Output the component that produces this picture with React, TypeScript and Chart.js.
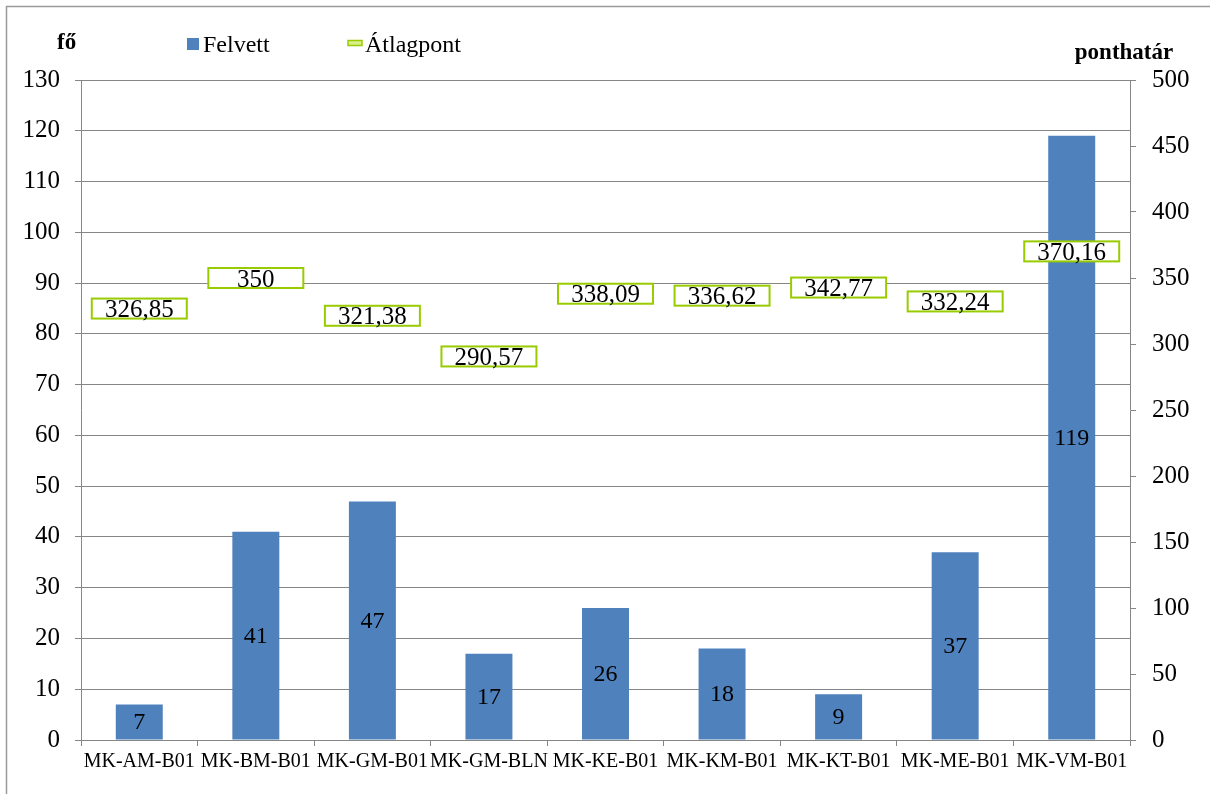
import React, { useEffect, useRef } from "react";
import { Chart, registerables } from "chart.js";

Chart.register(...registerables);

const categories = [
  "MK-AM-B01",
  "MK-BM-B01",
  "MK-GM-B01",
  "MK-GM-BLN",
  "MK-KE-B01",
  "MK-KM-B01",
  "MK-KT-B01",
  "MK-ME-B01",
  "MK-VM-B01",
];
const felvett = [7, 41, 47, 17, 26, 18, 9, 37, 119];
const atlagpont = [326.85, 350, 321.38, 290.57, 338.09, 336.62, 342.77, 332.24, 370.16];
const leftTitle = "fő";
const rightTitle = "ponthatár";
const seriesNames = ["Felvett", "Átlagpont"];

const BAR_COLOR = "#4F81BD";
const BOX_COLOR = "#99CC00";
const GRID_COLOR = "#868686";
const FONT = "'Liberation Serif', 'Times New Roman', serif";

const fmt = (v: number) =>
  Number.isInteger(v) ? String(v) : v.toFixed(2).replace(".", ",");

const decorPlugin = {
  id: "decor",
  beforeDraw(chart: any) {
    const ctx = chart.ctx;
    ctx.save();
    ctx.fillStyle = "#ffffff";
    ctx.fillRect(0, 0, chart.width, chart.height);
    ctx.strokeStyle = "#9a9a9a";
    ctx.lineWidth = 1.5;
    ctx.strokeRect(6.5, 6.5, chart.width + 10, chart.height + 10);
    ctx.restore();
  },
  afterDatasetsDraw(chart: any) {
    const ctx = chart.ctx;
    ctx.save();
    // bar labels
    const barMeta = chart.getDatasetMeta(0);
    ctx.font = `24px ${FONT}`;
    ctx.fillStyle = "#000";
    ctx.textAlign = "center";
    ctx.textBaseline = "middle";
    barMeta.data.forEach((el: any, i: number) => {
      const y = (el.y + el.base) / 2;
      ctx.fillText(fmt(felvett[i]), el.x, y + 1);
    });
    // line labels in boxes
    const lineMeta = chart.getDatasetMeta(1);
    ctx.font = `25px ${FONT}`;
    lineMeta.data.forEach((el: any, i: number) => {
      const w = 95;
      const h = 20;
      ctx.fillStyle = "#ffffff";
      ctx.fillRect(el.x - w / 2, el.y - h / 2, w, h);
      ctx.strokeStyle = BOX_COLOR;
      ctx.lineWidth = 2;
      ctx.strokeRect(el.x - w / 2, el.y - h / 2, w, h);
      ctx.fillStyle = "#000";
      ctx.fillText(fmt(atlagpont[i]), el.x, el.y + 2);
    });
    ctx.restore();
  },
  afterDraw(chart: any) {
    const ctx = chart.ctx;
    ctx.save();
    ctx.fillStyle = "#000";
    // axis titles
    ctx.font = `bold 23px ${FONT}`;
    ctx.textBaseline = "alphabetic";
    ctx.textAlign = "left";
    ctx.fillText(leftTitle, 57, 49);
    ctx.textAlign = "center";
    ctx.fillText(rightTitle, 1124, 59);
    // legend
    ctx.fillStyle = BAR_COLOR;
    ctx.fillRect(187, 38, 12, 12);
    ctx.fillStyle = "#d8ef8a";
    ctx.fillRect(348, 41, 14, 4);
    ctx.strokeStyle = BOX_COLOR;
    ctx.lineWidth = 1.5;
    ctx.strokeRect(348, 40.5, 14, 5);
    ctx.fillStyle = "#000";
    ctx.font = `24px ${FONT}`;
    ctx.textAlign = "left";
    ctx.fillText(seriesNames[0], 203, 52);
    ctx.fillText(seriesNames[1], 365, 52);
    ctx.restore();
  },
};

export default function App() {
  const ref = useRef<HTMLCanvasElement | null>(null);

  useEffect(() => {
    document.body.style.margin = "0";
    if (!ref.current) return;
    const chart = new Chart(ref.current, {
      type: "bar",
      data: {
        labels: categories,
        datasets: [
          {
            type: "bar",
            label: seriesNames[0],
            data: felvett,
            backgroundColor: BAR_COLOR,
            yAxisID: "y",
            categoryPercentage: 1,
            barPercentage: 0.403,
            order: 2,
          },
          {
            type: "line",
            label: seriesNames[1],
            data: atlagpont,
            yAxisID: "y1",
            showLine: false,
            pointRadius: 0,
            borderColor: BOX_COLOR,
            backgroundColor: BOX_COLOR,
            order: 1,
          } as any,
        ],
      },
      options: {
        animation: false,
        responsive: false,
        maintainAspectRatio: false,
        layout: { padding: { top: 80, left: 0, right: 0, bottom: 0 } },
        plugins: {
          legend: { display: false },
          tooltip: { enabled: false },
        },
        scales: {
          x: {
            offset: true,
            grid: {
              offset: true,
              drawOnChartArea: false,
              color: GRID_COLOR,
              tickLength: 6,
            },
            border: { color: GRID_COLOR },
            ticks: {
              color: "#000",
              font: { family: FONT, size: 20 },
              padding: 4,
              maxRotation: 0,
              autoSkip: false,
            },
            afterFit: (s: any) => {
              s.height = 54;
            },
          },
          y: {
            position: "left",
            min: 0,
            max: 130,
            ticks: {
              stepSize: 10,
              color: "#000",
              font: { family: FONT, size: 25 },
              padding: 15,
            },
            grid: { color: GRID_COLOR, tickLength: 6 },
            border: { color: GRID_COLOR },
            afterFit: (s: any) => {
              s.width = 81;
            },
          },
          y1: {
            position: "right",
            min: 0,
            max: 500,
            ticks: {
              stepSize: 50,
              color: "#000",
              font: { family: FONT, size: 25 },
              padding: 16,
            },
            grid: { drawOnChartArea: false, color: GRID_COLOR, tickLength: 6 },
            border: { color: GRID_COLOR },
            afterFit: (s: any) => {
              s.width = 80;
            },
          },
        },
      },
      plugins: [decorPlugin],
    });
    return () => chart.destroy();
  }, []);

  return (
    <div style={{ width: 1210, height: 794 }}>
      <canvas ref={ref} width={1210} height={794} />
    </div>
  );
}
